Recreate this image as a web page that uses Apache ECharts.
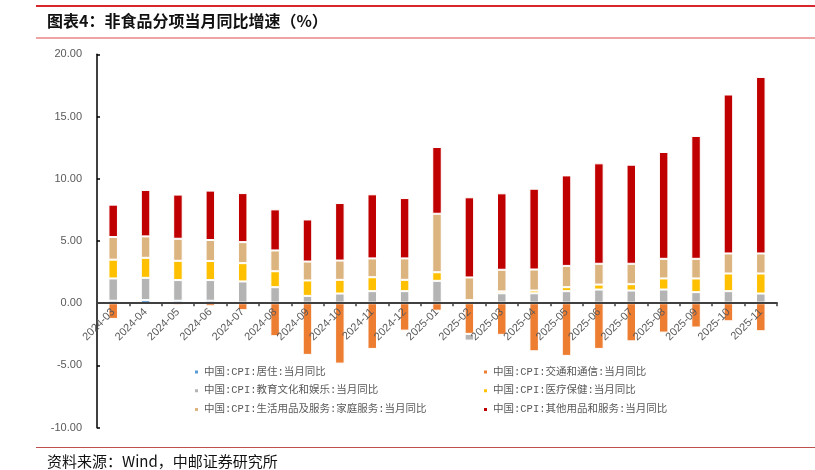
<!DOCTYPE html>
<html>
<head>
<meta charset="utf-8">
<script src="https://cdn.jsdelivr.net/npm/echarts@6/dist/echarts.min.js"></script>
<style>
html,body{margin:0;padding:0;background:#fff;}
#c{width:815px;height:470px;}
</style>
</head>
<body>
<div id="c"></div>
<script>
var categories = ['2024-03','2024-04','2024-05','2024-06','2024-07','2024-08','2024-09','2024-10','2024-11','2024-12','2025-01','2025-02','2025-03','2025-04','2025-05','2025-06','2025-07','2025-08','2025-09','2025-10','2025-11'];
var housing   = [0.2,0.25,0.2,0.2,0.05,0.05,0.05,0.05,0.05,0.05,0.05,0.1,0.05,0.05,0.05,0.05,0.05,0.05,0.05,0.05,0.05];
var transport = [-1.26,-0.05,-0.16,-0.24,-0.56,-2.65,-4.15,-4.85,-3.67,-2.2,-0.6,-2.46,-2.54,-3.86,-4.23,-3.67,-3.06,-2.36,-1.95,-1.45,-2.25];
var education = [1.79,1.79,1.66,1.66,1.7,1.24,0.54,0.73,0.92,0.92,1.75,-0.54,0.75,0.75,0.92,1.05,0.97,1.05,0.84,0.92,0.73];
var medical   = [1.51,1.61,1.55,1.53,1.47,1.28,1.24,1.1,1.12,0.91,0.69,0.15,0.15,0.22,0.32,0.4,0.51,0.89,1.1,1.42,1.61];
var household = [1.82,1.72,1.77,1.69,1.69,1.67,1.52,1.55,1.51,1.72,4.7,1.82,1.74,1.69,1.71,1.67,1.64,1.58,1.58,1.61,1.61];
var others    = [2.6,3.73,3.55,3.97,3.94,3.3,3.38,4.62,5.15,4.85,5.36,6.44,6.14,6.49,7.27,8.07,7.96,8.58,9.87,12.77,14.18];
var yTicks = [-10, -5, 0, 5, 10, 15, 20];

var names = ['中国:CPI:居住:当月同比','中国:CPI:交通和通信:当月同比','中国:CPI:教育文化和娱乐:当月同比','中国:CPI:医疗保健:当月同比','中国:CPI:生活用品及服务:家庭服务:当月同比','中国:CPI:其他用品和服务:当月同比'];
var colors = ['#5b9bd5','#ed7d31','#b4b4b4','#ffc000','#dcb47f','#c00000'];
var datas = [housing, transport, education, medical, household, others];

var series = names.map(function(n, i){
  return {
    name: n, type: 'bar', stack: 'all', data: datas[i], barWidth: 9.5,
    itemStyle: {color: colors[i], borderColor: '#ffffff', borderWidth: 1},
    emphasis: {disabled: true}
  };
});

var yMin = yTicks[0], yMax = yTicks[yTicks.length-1];
var gridTop = 54.3, gridBottom = 42.3, H = 470;
var plotH = H - gridTop - gridBottom;
var zeroOffset = -plotH * (0 - yMin) / (yMax - yMin);

var legendText = {color:'#595959', fontSize:10.5, fontFamily:"'Liberation Mono','Noto Sans CJK SC'", lineHeight:12};
var chart = echarts.init(document.getElementById('c'), null, {renderer:'canvas'});
chart.setOption({
  animation: false,
  color: colors,
  grid: {left: 97, right: 38, top: gridTop, bottom: gridBottom, containLabel: false},
  xAxis: {
    type: 'category', data: categories, offset: zeroOffset, z: 5,
    axisLine: {onZero: false, lineStyle: {color: '#404040', width: 2}},
    axisTick: {show: true, alignWithLabel: false, length: 3, lineStyle: {color:'#404040', width:1.5}},
    axisLabel: {rotate: 45, color: '#595959', fontSize: 11, fontFamily: "'Liberation Sans'", margin: 7, interval: 0}
  },
  yAxis: {
    type: 'value', min: yMin, max: yMax, interval: 5,
    axisLine: {show: true, lineStyle: {color: '#000', width: 1.5}},
    axisTick: {show: true, inside: true, length: 3, lineStyle: {color:'#000', width:1.5}},
    splitLine: {show: false},
    axisLabel: {color: '#595959', fontSize: 11, fontFamily: "'Liberation Sans'", margin: 15,
      formatter: function(v){ return v.toFixed(2); }}
  },
  legend: [
    {orient:'vertical', left:193, top:366, padding:0, itemWidth:5, itemHeight:5, itemGap:6.7, icon:'rect',
     data:[names[0], names[2], names[4]], textStyle: legendText},
    {orient:'vertical', left:482, top:366, padding:0, itemWidth:5, itemHeight:5, itemGap:6.7, icon:'rect',
     data:[names[1], names[3], names[5]], textStyle: legendText}
  ],
  graphic: [
    {type:'rect', shape:{x:36, y:5, width:779, height:2}, style:{fill:'#d9262c'}},
    {type:'rect', shape:{x:36, y:37.5, width:779, height:1}, style:{fill:'#e04a4a'}},
    {type:'rect', shape:{x:36, y:447, width:779, height:1}, style:{fill:'#c0504d'}},
    {type:'text', left:47, top:13, style:{text:'图表4：非食品分项当月同比增速（%）', fill:'#111', font:"bold 16px 'Noto Sans CJK SC'"}},
    {type:'text', left:47, top:454, style:{text:'资料来源：Wind，中邮证券研究所', fill:'#111', font:"15px 'Noto Sans CJK SC'"}}
  ],
  series: series
});
</script>
</body>
</html>
